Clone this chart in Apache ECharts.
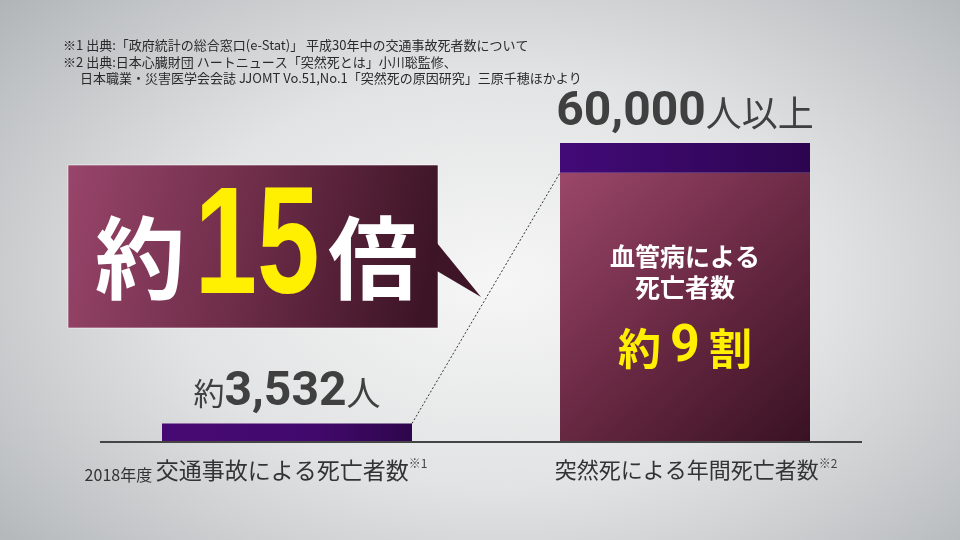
<!DOCTYPE html>
<html>
<head>
<meta charset="utf-8">
<script src="https://cdn.jsdelivr.net/npm/echarts@6/dist/echarts.min.js"></script>
<style>
  html, body { margin: 0; padding: 0; }
  #chart {
    width: 960px; height: 540px;
    background: radial-gradient(ellipse 75% 85% at 52% 52%, #f6f6f6 0%, #e2e3e4 45%, #bfc2c4 80%, #a9acae 100%);
  }
</style>
</head>
<body>
<div id="chart"></div>
<script>
// 交通事故 vs 突然死
var categories = ['交通事故による死亡者数', '突然死による年間死亡者数'];
var catPrefix = ['2018年度', ''];
var catNote = ['※1', '※2'];
var traffic = [3532, '-'];
var vascular = ['-', 54000];   // 血管病による死亡 約9割
var otherCause = ['-', 6000];
var yMax = 60000;
var notes = [
	'※1 出典:「政府統計の総合窓口(e-Stat)」 平成30年中の交通事故死者数について',
	'※2 出典:日本心臓財団 ハートニュース「突然死とは」小川聡監修、',
	'日本職業・災害医学会会誌 JJOMT Vo.51,No.1「突然死の原因研究」三原千穂ほかより'
];

var CJK = '"Noto Sans CJK JP", "Noto Sans", sans-serif';
var NUM = 'Roboto, "Noto Sans", sans-serif';
var barWidth = 250;

function fmt(v) {
	return Number(v).toLocaleString('en-US');
}

var chart = echarts.init(document.getElementById('chart'), null, { renderer: 'canvas' });

var option = {
	backgroundColor : 'transparent',
	animation : false,
	grid : {
		left : 88,
		right : 76,
		top : 143,
		bottom : 99
	},
	xAxis : [ {
		type : 'category',
		data : categories,
		axisLine : { show : false },
		axisTick : { show : false },
		axisLabel : {
			margin : 16,
			interval : 0,
			formatter : function(value, idx) {
				var s = '';
				if (catPrefix[idx]) {
					s += '{p|' + catPrefix[idx] + ' }';
				}
				s += (idx === 0 ? '{c|' : '{c1|') + value + '}';
				s += (idx === 0 ? '{n0|' : '{n1|') + catNote[idx] + '}';
				return s;
			},
			rich : {
				p : { fontSize : 16, color : '#333', fontFamily : CJK, verticalAlign : 'bottom', lineHeight : 26 },
				c : { fontSize : 23, color : '#333', fontFamily : CJK, lineHeight : 26 },
				c1 : { fontSize : 22, color : '#333', fontFamily : CJK, lineHeight : 26, padding : [ 0, 0, 0, 22 ] },
				n0 : { fontSize : 12, color : '#444', fontFamily : CJK, verticalAlign : 'top', lineHeight : 26, padding : [ 0, 62, 0, 0 ] },
				n1 : { fontSize : 12, color : '#444', fontFamily : CJK, verticalAlign : 'top', lineHeight : 26 }
			}
		}
	} ],
	yAxis : [ {
		type : 'value',
		min : 0,
		max : yMax,
		show : false,
		splitLine : { show : false }
	} ],
	series : [ {
		name : '交通事故',
		type : 'bar',
		barWidth : barWidth,
		barGap : '-100%',
		data : traffic,
		itemStyle : {
			color : new echarts.graphic.LinearGradient(0, 0, 1, 0, [ {
				offset : 0, color : '#470a74'
			}, {
				offset : 0.6, color : '#42096d'
			}, {
				offset : 1, color : '#2e064c'
			} ], false)
		},
		label : {
			show : true,
			position : 'top',
			distance : 6,
			formatter : function(p) {
				return '{u|約}{n|' + fmt(p.value) + '}{u2|人}';
			},
			rich : {
				u : { fontSize : 31, color : '#404040', fontFamily : CJK },
				n : { fontSize : 48, color : '#404040', fontFamily : NUM, fontWeight : 'bold' },
				u2 : { fontSize : 34, color : '#404040', fontFamily : CJK }
			}
		}
	}, {
		name : '血管病',
		type : 'bar',
		stack : 'sudden',
		barWidth : barWidth,
		data : vascular,
		itemStyle : {
			color : new echarts.graphic.LinearGradient(0, 0, 1, 1, [ {
				offset : 0, color : '#9b4769'
			}, {
				offset : 0.5, color : '#6a2944'
			}, {
				offset : 1, color : '#391222'
			} ], false)
		},
		label : {
			show : true,
			position : 'insideTop',
			distance : 68,
			formatter : function(p) {
				return '{t|血管病による}\n{t|死亡者数}\n{y|約}{z|9}{y|割}';
			},
			rich : {
				t : { fontSize : 25, color : '#ffffff', fontFamily : CJK, fontWeight : 'bold', lineHeight : 31, align : 'center' },
				y : { fontSize : 43, color : '#ffef00', fontFamily : CJK, fontWeight : 'bold', lineHeight : 91 },
				z : { fontSize : 52, color : '#ffef00', fontFamily : NUM, fontWeight : 'bold', lineHeight : 91, padding : [ 0, 9, 0, 9 ] }
			}
		}
	}, {
		name : 'その他',
		type : 'bar',
		stack : 'sudden',
		barWidth : barWidth,
		data : otherCause,
		itemStyle : {
			color : new echarts.graphic.LinearGradient(0, 0, 1, 0, [ {
				offset : 0, color : '#420a78'
			}, {
				offset : 1, color : '#2c0550'
			} ], false)
		},
		label : {
			show : true,
			position : 'top',
			distance : 6,
			formatter : function(p) {
				return '{n|' + fmt(yMax) + '}{u|人以上}';
			},
			rich : {
				n : { fontSize : 48, color : '#404040', fontFamily : NUM, fontWeight : 'bold' },
				u : { fontSize : 36, color : '#404040', fontFamily : CJK }
			}
		}
	} ]
};

chart.setOption(option, true);

// 補助図形: 基準線・点線・吹き出し・注記
var base = chart.convertToPixel({ xAxisIndex : 0, yAxisIndex : 0 }, [ 0, 0 ]);
var pL = chart.convertToPixel({ xAxisIndex : 0, yAxisIndex : 0 }, [ 0, traffic[0] ]);
var pR = chart.convertToPixel({ xAxisIndex : 0, yAxisIndex : 0 }, [ 1, vascular[1] ]);

var graphics = [ {
	type : 'line',
	shape : { x1 : 100, y1 : base[1] + 1, x2 : 862, y2 : base[1] + 1 },
	style : { stroke : '#454545', lineWidth : 2 },
	z : 10
}, {
	type : 'line',
	shape : { x1 : pL[0] + barWidth / 2, y1 : pL[1], x2 : pR[0] - barWidth / 2, y2 : pR[1] },
	style : { stroke : '#333', lineWidth : 1, lineDash : [ 2, 2 ] }
}, {
	type : 'rect',
	shape : { x : 68, y : 165, width : 370, height : 163 },
	style : {
		fill : new echarts.graphic.LinearGradient(0, 0, 1, 0.5, [ {
			offset : 0, color : '#98456a'
		}, {
			offset : 0.5, color : '#6e2d49'
		}, {
			offset : 1, color : '#3c1426'
		} ], false),
		stroke : 'rgba(255,255,255,0.55)',
		lineWidth : 1
	}
}, {
	type : 'polygon',
	shape : { points : [ [ 437, 243 ], [ 437, 271 ], [ 481, 297 ] ] },
	style : { fill : '#3d1527' }
}, {
	type : 'text',
	x : 140,
	y : 258,
	style : {
		text : '約',
		fill : '#ffffff',
		fontSize : 90,
		fontWeight : 'bold',
		fontFamily : CJK,
		align : 'center',
		verticalAlign : 'middle'
	}
}, {
	type : 'text',
	x : 257,
	y : 251,
	scaleX : 0.74,
	style : {
		text : '15',
		fill : '#ffef00',
		fontSize : 152,
		fontWeight : 'bold',
		fontFamily : '"Liberation Sans", Arial, sans-serif',
		align : 'center',
		verticalAlign : 'middle'
	}
}, {
	type : 'text',
	x : 373,
	y : 258,
	style : {
		text : '倍',
		fill : '#ffffff',
		fontSize : 90,
		fontWeight : 'bold',
		fontFamily : CJK,
		align : 'center',
		verticalAlign : 'middle'
	}
} ];

var noteX = [ 63, 63, 80 ];
var noteY = [ 45, 62, 78 ];
notes.forEach(function(t, i) {
	graphics.push({
		type : 'text',
		x : noteX[i],
		y : noteY[i],
		style : {
			text : t,
			fontSize : 13,
			fill : '#2a2a2a',
			fontFamily : CJK,
			verticalAlign : 'middle'
		}
	});
});

chart.setOption({ graphic : graphics });
</script>
</body>
</html>
